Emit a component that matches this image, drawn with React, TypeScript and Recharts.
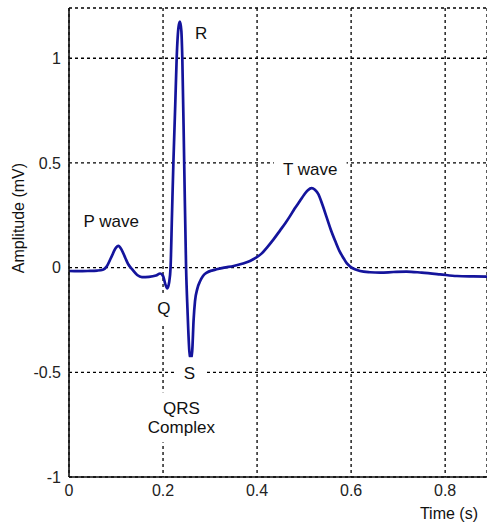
import { LineChart, Line, XAxis, YAxis, CartesianGrid, ReferenceDot } from 'recharts'

// ECG trace (time in s, amplitude in mV)
const time = [
  0, 0.02, 0.04, 0.06, 0.072, 0.08, 0.09, 0.1, 0.105, 0.112, 0.12, 0.126, 0.135, 0.145, 0.155,
  0.17, 0.185, 0.194, 0.2, 0.205, 0.209, 0.213, 0.216, 0.219, 0.222, 0.226, 0.229, 0.233, 0.236,
  0.239, 0.241, 0.245, 0.249, 0.252, 0.256, 0.259, 0.262, 0.265, 0.268, 0.273, 0.279, 0.285,
  0.293, 0.305, 0.314, 0.33, 0.35, 0.37, 0.385, 0.396, 0.41, 0.421, 0.435, 0.449, 0.46, 0.47,
  0.48, 0.491, 0.5, 0.508, 0.516, 0.523, 0.53, 0.539, 0.548, 0.557, 0.566, 0.575, 0.584, 0.591,
  0.598, 0.608, 0.619, 0.64, 0.662, 0.69, 0.718, 0.75, 0.789, 0.825, 0.86, 0.889,
]
const amplitude = [
  -0.016, -0.017, -0.016, -0.014, -0.01, 0.005, 0.05, 0.095, 0.104, 0.085, 0.045, 0.016, -0.01,
  -0.035, -0.045, -0.044, -0.038, -0.028, -0.04, -0.08, -0.099, -0.07, 0, 0.25, 0.5, 0.78, 1,
  1.15, 1.175, 1.13, 1, 0.5, 0, -0.2, -0.4, -0.439, -0.4, -0.25, -0.16, -0.1, -0.064, -0.04,
  -0.024, -0.013, -0.008, 0, 0.008, 0.02, 0.032, 0.045, 0.068, 0.096, 0.135, 0.178, 0.212, 0.246,
  0.282, 0.318, 0.348, 0.37, 0.38, 0.372, 0.352, 0.3, 0.24, 0.18, 0.128, 0.08, 0.045, 0.02,
  0.005, -0.008, -0.016, -0.022, -0.024, -0.021, -0.019, -0.024, -0.032, -0.04, -0.042, -0.043,
]

const xTicks = [0, 0.2, 0.4, 0.6, 0.8]
const yTicks = [-1, -0.5, 0, 0.5, 1]

// wave labels, placed in data units
const noteText = [['R'], ['P wave'], ['Q'], ['S'], ['QRS', 'Complex'], ['T wave']]
const noteTime = [0.281, 0.09, 0.202, 0.256, 0.239, 0.513]
const noteAmp = [1.122, 0.224, -0.195, -0.502, -0.715, 0.471]

const data = time.map((t, i) => ({ t, v: amplitude[i] }))

const FONT = "'Liberation Sans', Arial, Helvetica, sans-serif"

let ctx: CanvasRenderingContext2D | null = null
function textWidth(s: string, size: number) {
  if (!ctx) ctx = document.createElement('canvas').getContext('2d')
  if (!ctx) return s.length * size * 0.55
  ctx.font = `${size}px ${FONT}`
  return ctx.measureText(s).width
}

function Note({ cx, cy, lines }: any) {
  const size = 17
  const lh = 19
  const w = Math.max(...lines.map((l: string) => textWidth(l, size))) + 18
  const h = lines.length * lh + 12
  const top = cy - (lines.length * lh) / 2
  return (
    <g>
      <rect x={cx - w / 2} y={top - 6} width={w} height={h} fill="#fff" />
      {lines.map((l: string, i: number) => (
        <text
          key={i}
          x={cx}
          y={top + i * lh + lh / 2}
          dy="0.35em"
          textAnchor="middle"
          fontSize={size}
          fontFamily={FONT}
          fill="#111"
        >
          {l}
        </text>
      ))}
    </g>
  )
}

const yTitle = ({ viewBox }: any) => (
  <text
    transform={`translate(${viewBox.x + 24}, ${viewBox.y + 210}) rotate(-90)`}
    textAnchor="middle"
    fontSize={16}
    fontFamily={FONT}
    fill="#111"
  >
    Amplitude (mV)
  </text>
)

const xTitle = ({ viewBox }: any) => (
  <text
    x={viewBox.x + viewBox.width - 9}
    y={viewBox.y + 42}
    textAnchor="end"
    fontSize={16}
    fontFamily={FONT}
    fill="#111"
  >
    Time (s)
  </text>
)

export default function App() {
  const tick = { fontSize: 16, fontFamily: FONT, fill: '#222' }
  return (
    <div style={{ position: 'absolute', left: 0, top: 0, background: '#fff' }}>
      <LineChart width={487} height={527} data={data} margin={{ top: 8, right: 0, bottom: 0, left: 0 }}>
        <CartesianGrid stroke="#000" strokeWidth={1.3} strokeDasharray="3 3" />
        <XAxis
          dataKey="t"
          type="number"
          domain={[0, 0.889]}
          ticks={xTicks}
          height={50}
          tick={tick}
          tickLine={false}
          axisLine={{ stroke: '#111', strokeWidth: 1.6 }}
          label={xTitle}
        />
        <YAxis
          type="number"
          domain={[-1, 1.24]}
          ticks={yTicks}
          width={69}
          tick={tick}
          tickLine={false}
          axisLine={{ stroke: '#111', strokeWidth: 1.6 }}
          label={yTitle}
          allowDataOverflow
        />
        {noteText.map((lines, i) => (
          <ReferenceDot
            key={i}
            x={noteTime[i]}
            y={noteAmp[i]}
            r={0}
            shape={(p: any) => <Note cx={p.cx} cy={p.cy} lines={lines} />}
          />
        ))}
        <Line
          type="monotone"
          dataKey="v"
          stroke="#14149c"
          strokeWidth={2.7}
          dot={false}
          isAnimationActive={false}
        />
      </LineChart>
    </div>
  )
}
